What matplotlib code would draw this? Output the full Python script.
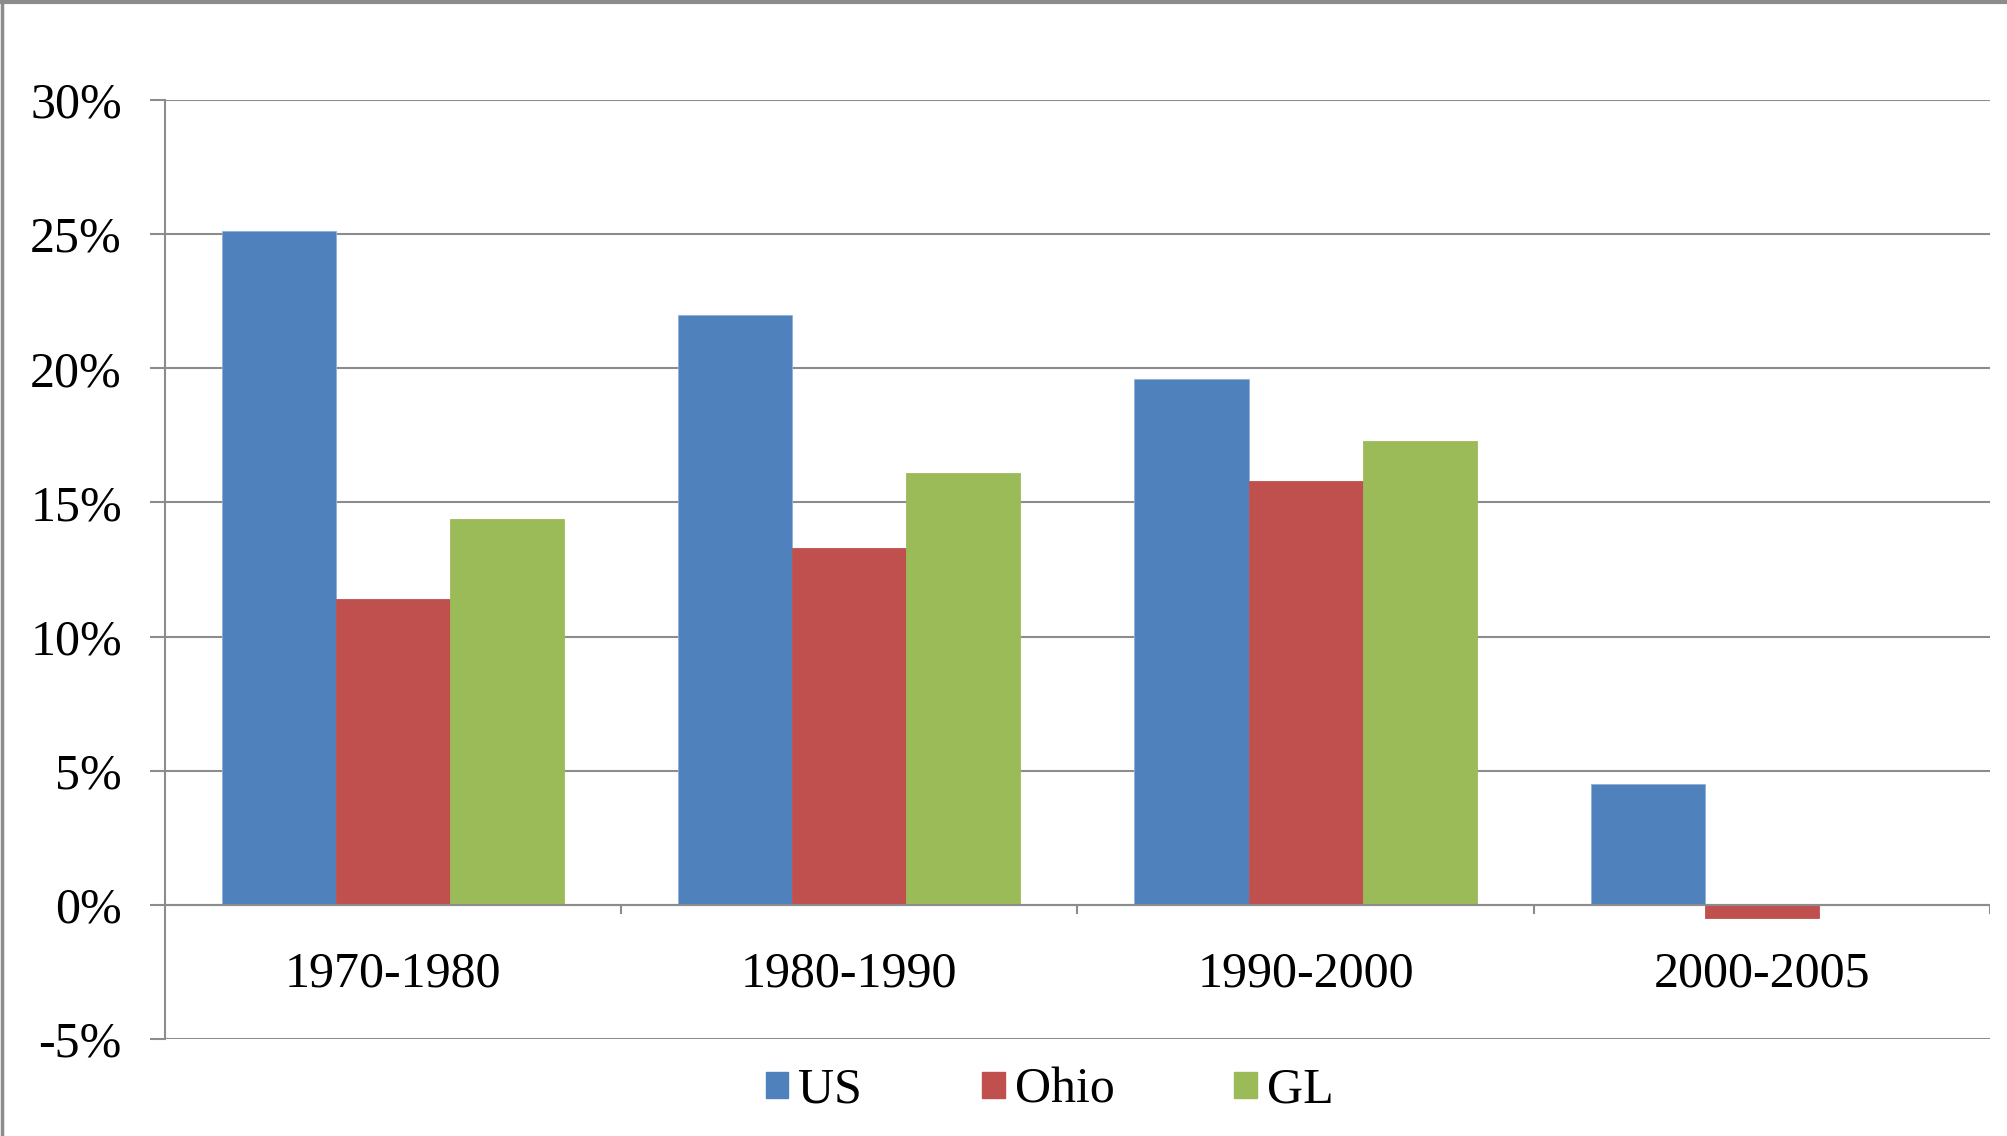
import numpy as np
import matplotlib
matplotlib.use('Agg')
import matplotlib.pyplot as plt
from matplotlib.patches import Patch
from matplotlib.lines import Line2D
from matplotlib.ticker import FuncFormatter

# Data (growth rate, percent)
periods = ['1970-1980', '1980-1990', '1990-2000', '2000-2005']
series = ['US', 'Ohio', 'GL']
us = [25.1, 22.0, 19.6, 4.5]
ohio = [11.4, 13.3, 15.8, -0.5]
gl = [14.4, 16.1, 17.3, np.nan]
colors = ['#4F81BD', '#C0504D', '#9BBB59']
yticks = [-5, 0, 5, 10, 15, 20, 25, 30]

plt.rcParams['font.family'] = ['Liberation Serif', 'DejaVu Serif']
fs = 36

fig = plt.figure(figsize=(20.07, 11.36), dpi=100)
ax = fig.add_axes([0.0822, 0.0854, 0.9093, 0.8266])

x = np.arange(len(periods))
w = 0.25
for i, (vals, name, c) in enumerate(zip([us, ohio, gl], series, colors)):
    ax.bar(x + (i - 1) * w, vals, width=w, color=c, edgecolor='#8fb0d8' if i == 0 else c,
           linewidth=0.6, label=name, zorder=3)

ax.set_xlim(-0.5, len(periods) - 0.5)
ax.set_ylim(-5, 30)
ax.set_yticks(yticks)
ax.yaxis.set_major_formatter(FuncFormatter(lambda v, p: f'{v:.0f}%'))
ax.grid(axis='y', color='#8c8c8c', linewidth=1.5, zorder=0)
ax.set_axisbelow(True)

for s in ['top', 'right', 'bottom']:
    ax.spines[s].set_visible(False)
ax.spines['left'].set_color('#8c8c8c')
ax.spines['left'].set_linewidth(1.5)
ax.tick_params(axis='y', length=11, width=1.5, color='#8c8c8c', pad=20, labelsize=fs)
ax.tick_params(axis='x', bottom=False, labelbottom=False)

# category axis at zero with tick marks between groups
ax.axhline(0, color='#8c8c8c', linewidth=1.5, zorder=4)
bounds = np.arange(len(periods) + 1) - 0.5
ax.vlines(bounds[1:], -0.35, 0, color='#8c8c8c', linewidth=1.5, zorder=4)
for xi, lab in zip(x, periods):
    ax.text(xi, -2.6, lab, ha='center', va='center', fontsize=fs)

handles = [Patch(facecolor=c, edgecolor=c) for c in colors]
fig.legend(handles, series, loc='center', bbox_to_anchor=(0.523, 0.04), ncol=3,
           frameon=False, fontsize=fs, handlelength=0.45, handleheight=0.45,
           handletextpad=0.2, columnspacing=2.4)

# outer frame lines (top and left)
fig.add_artist(Line2D([0, 1], [0.998, 0.998], transform=fig.transFigure, color='#8c8c8c', linewidth=3))
fig.add_artist(Line2D([0.001, 0.001], [0, 1], transform=fig.transFigure, color='#8c8c8c', linewidth=2.5))

fig.savefig('out.png', dpi=100)
